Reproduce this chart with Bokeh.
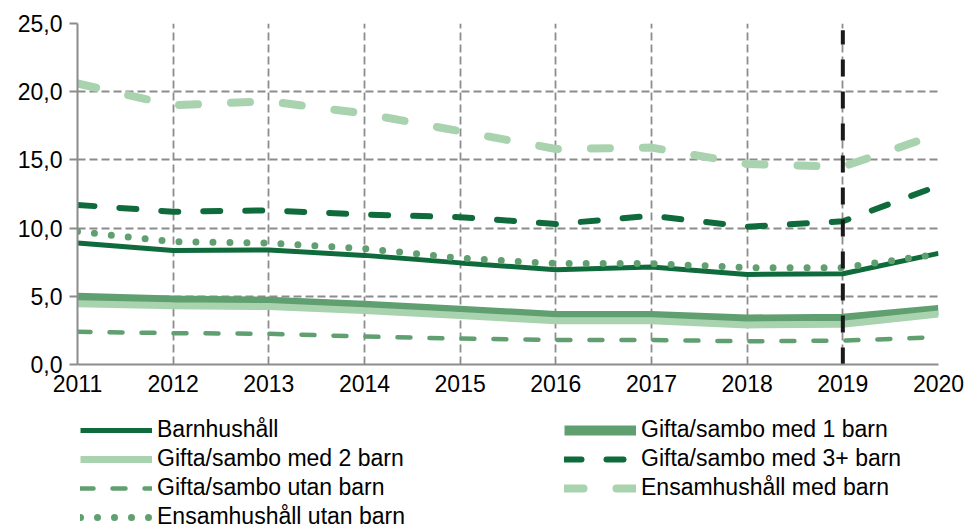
from bokeh.plotting import figure
from bokeh.models import Legend, LegendItem, FixedTicker
from bokeh.layouts import column
from bokeh.embed import file_html
from bokeh.resources import INLINE

years = [2011, 2012, 2013, 2014, 2015, 2016, 2017, 2018, 2019, 2020]

barnhushall = [8.9, 8.35, 8.4, 8.0, 7.45, 6.95, 7.15, 6.6, 6.65, 8.15]
gs_1_barn = [4.9, 4.7, 4.6, 4.3, 3.95, 3.55, 3.55, 3.3, 3.35, 4.0]
gs_2_barn = [4.45, 4.3, 4.25, 3.95, 3.6, 3.2, 3.2, 2.9, 2.95, 3.7]
gs_3_barn = [11.7, 11.2, 11.3, 11.0, 10.8, 10.3, 10.9, 10.1, 10.5, 13.1]
gs_utan_barn = [2.4, 2.3, 2.25, 2.05, 1.9, 1.8, 1.8, 1.7, 1.75, 2.0]
ensam_med_barn = [20.6, 19.0, 19.3, 18.4, 17.1, 15.8, 15.9, 14.7, 14.5, 16.9]
ensam_utan_barn = [9.75, 9.0, 8.9, 8.5, 7.8, 7.4, 7.4, 7.1, 7.1, 8.1]

series_names = [
    "Barnhushåll",
    "Gifta/sambo med 1 barn",
    "Gifta/sambo med 2 barn",
    "Gifta/sambo med 3+ barn",
    "Gifta/sambo utan barn",
    "Ensamhushåll med barn",
    "Ensamhushåll utan barn",
]
series_values = [barnhushall, gs_1_barn, gs_2_barn, gs_3_barn,
                 gs_utan_barn, ensam_med_barn, ensam_utan_barn]

y_ticks = [0, 5, 10, 15, 20, 25]
y_tick_labels = ["0,0", "5,0", "10,0", "15,0", "20,0", "25,0"]
x_tick_labels = [str(y) for y in years]

marker_year = 2019
marker_top = 24.5

DARK = "#0f6b3b"
MID = "#60a070"
LIGHT = "#a8d3ae"
GRID = "#8c8c8c"
FONT = "Liberation Sans"

styles = [
    dict(line_color=DARK, line_width=5),
    dict(line_color=MID, line_width=10),
    dict(line_color=LIGHT, line_width=7),
    dict(line_color=DARK, line_width=6, line_dash="17 25", line_cap="round"),
    dict(line_color=MID, line_width=4.5, line_dash="13 19", line_cap="round"),
    dict(line_color=LIGHT, line_width=8, line_dash="19 33", line_cap="round"),
    dict(line_color=MID, line_width=7, line_dash="0 17", line_cap="round"),
]

p = figure(frame_width=861, frame_height=341, output_backend="svg", toolbar_location=None,
           x_range=(2011, 2020), y_range=(0, 25),
           min_border_left=77, min_border_right=28, min_border_top=23,
           min_border_bottom=40)
p.outline_line_color = None
p.background_fill_color = "white"

p.xaxis.ticker = FixedTicker(ticks=years)
p.yaxis.ticker = FixedTicker(ticks=y_ticks)
p.xaxis.major_label_overrides = {y: l for y, l in zip(years, x_tick_labels)}
p.yaxis.major_label_overrides = {t: l for t, l in zip(y_ticks, y_tick_labels)}

for ax in (p.xaxis, p.yaxis):
    ax.axis_line_color = GRID
    ax.axis_line_width = 2
    ax.major_tick_line_color = GRID
    ax.major_tick_line_width = 2
    ax.minor_tick_line_color = None
    ax.major_label_text_font = FONT
    ax.major_label_text_font_size = "23px"
    ax.major_label_text_color = "black"
p.yaxis.major_tick_out = 8
p.yaxis.major_tick_in = 0
p.yaxis.major_label_standoff = 7
p.xaxis.major_tick_out = 0
p.xaxis.major_tick_in = 0
p.xaxis.major_label_standoff = 10

for g in (p.xgrid, p.ygrid):
    g.grid_line_color = GRID
    g.grid_line_width = 1.8
    g.grid_line_dash = "8 4"

for vals, st in zip(series_values, styles):
    p.line(years, vals, **st)

p.segment(x0=[marker_year], y0=[0], x1=[marker_year], y1=[marker_top],
          line_color="#1a1a1a", line_width=4, line_dash="17 15")

# legend panel below the chart (its lines lie outside its own ranges, only the legend shows)
lp = figure(width=966, height=127, output_backend="svg", toolbar_location=None,
            x_range=(0, 1), y_range=(0, 1), x_axis_type=None, y_axis_type=None,
            min_border=0)
lp.outline_line_color = None
lp.xgrid.visible = False
lp.ygrid.visible = False
items = []
for name, vals, st in zip(series_names, series_values, styles):
    r = lp.line(years, vals, **st)
    items.append(LegendItem(label=name, renderers=[r]))

legend = Legend(items=items, location=(3, 1), orientation="horizontal", ncols=2,
                glyph_width=72, glyph_height=20, label_standoff=5,
                label_width=405, label_height=22, spacing=2,
                padding=0, margin=0,
                label_text_font=FONT, label_text_font_size="23px",
                label_text_color="black",
                background_fill_alpha=0, border_line_alpha=0)
lp.add_layout(legend, "center")

layout = column(p, lp, spacing=0)
open("out.html", "w").write(file_html(layout, INLINE))
